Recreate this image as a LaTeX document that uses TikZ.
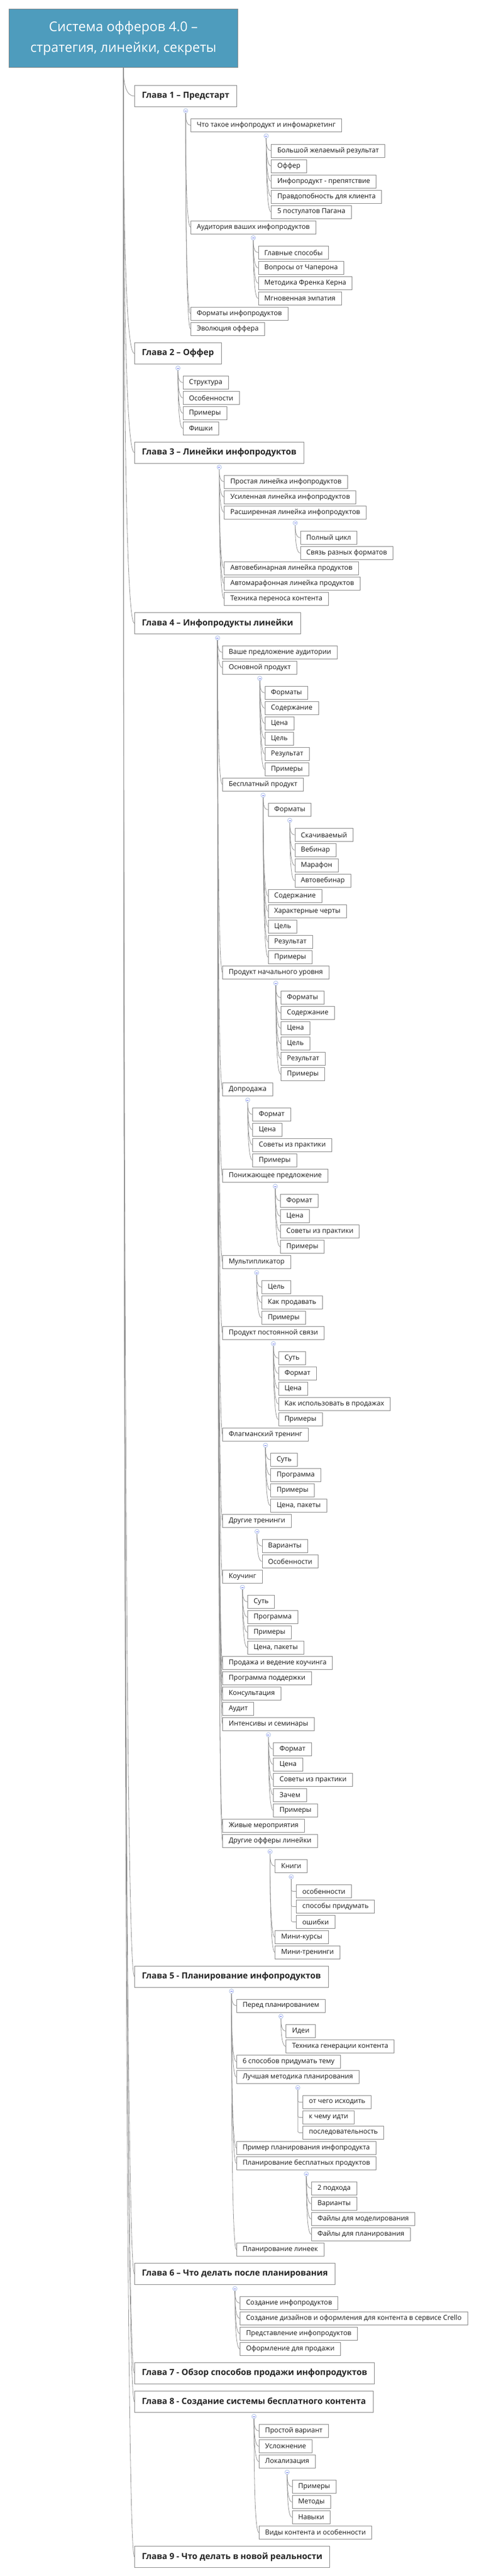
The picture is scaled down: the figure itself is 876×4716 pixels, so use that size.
\documentclass[tikz,border=0pt]{standalone}
\usepackage{fontspec}
\setmainfont{Open Sans}
\usetikzlibrary{calc}
\definecolor{rootfill}{HTML}{4E9CBD}
\definecolor{boxline}{HTML}{858585}
\definecolor{connline}{HTML}{8F8F8F}
\definecolor{circline}{HTML}{A9BDE6}
\definecolor{txt}{HTML}{1A1A1A}
\tikzset{
  leaf/.style={draw=boxline, line width=0.9pt, fill=white, text=txt,
    font=\fontsize{12.5}{15}\selectfont, inner xsep=11pt, inner ysep=0pt,
    minimum height=24pt, anchor=north west},
  chap/.style={draw=boxline, line width=0.9pt, fill=white, text=black!85,
    font=\bfseries\fontsize{15.5}{18}\selectfont, inner xsep=13.5pt, inner ysep=0pt,
    minimum height=39pt, anchor=north west},
  rootbox/.style={draw=boxline, line width=0.9pt, fill=rootfill, text=white,
    font=\fontsize{24.5}{38}\selectfont, align=center, anchor=north west,
    minimum width=419pt, minimum height=107pt, inner sep=0pt},
  conn/.style={draw=connline, line width=0.8pt},
  togg/.style={draw=circline, fill=white, line width=0.8pt},
  tminus/.style={draw=circline!60!blue, line width=0.7pt}
}
% child with curved connector
\newcommand\Kid[4]{%
  \coordinate (yy) at (0,#3);
  \node[leaf, xshift=9pt] (#1) at (#2.center |- yy) {#4};
  \coordinate (s) at ($(#2.south)+(0,11)$);
  \coordinate (q) at (s |- #1.west);
  \draw[conn] (s) .. controls ($(s)!0.667!(q)$) and ($(#1.west)!0.667!(q)$) .. (#1.west);
}
% child with elbow connector
\newcommand\EKid[4]{%
  \coordinate (yy) at (0,#3);
  \node[leaf, xshift=9pt] (#1) at (#2.center |- yy) {#4};
  \coordinate (s) at ($(#2.south)+(0,11)$);
  \draw[conn, rounded corners=3pt] (s) |- (#1.west);
}
% chapter
\newcommand\Chap[3]{%
  \node[chap] (#1) at (246,#2) {#3};
  \coordinate (q) at (root.south |- #1.west);
  \draw[conn] (root.south) .. controls ($(root.south)!0.667!(q)$) and ($(#1.west)!0.667!(q)$) .. (#1.west);
}
% collapse toggle
\newcommand\Tog[1]{%
  \draw[togg] ($(#1.south)+(0,7)$) circle[radius=4];
  \draw[tminus] ($(#1.south)+(-2,7)$) -- ++(4,0);
}
\begin{document}
\begin{tikzpicture}[x=1pt,y=-1pt]
\useasboundingbox (0,0) rectangle (876,4716);
\fill[white] (0,0) rectangle (876,4716);
\node[rootbox] (root) at (16,16) {Система офферов 4.0 –\\стратегия, линейки, секреты};

% ---------- Chapter 1
\Chap{c1}{156}{Глава 1 – Предстарт}
\Kid{c1a}{c1}{217}{Что такое инфопродукт и инфомаркетинг}
\Kid{c1a1}{c1a}{263.5}{Большой желаемый результат}
\Kid{c1a2}{c1a}{291.5}{Оффер}
\Kid{c1a3}{c1a}{319.5}{Инфопродукт - препятствие}
\Kid{c1a4}{c1a}{347.5}{Правдопобность для клиента}
\Kid{c1a5}{c1a}{375.5}{5 постулатов Пагана}
\Kid{c1b}{c1}{403.5}{Аудитория ваших инфопродуктов}
\Kid{c1b1}{c1b}{450}{Главные способы}
\Kid{c1b2}{c1b}{478}{Вопросы от Чаперона}
\Kid{c1b3}{c1b}{506}{Методика Френка Керна}
\Kid{c1b4}{c1b}{534}{Мгновенная эмпатия}
\Kid{c1c}{c1}{562}{Форматы инфопродуктов}
\Kid{c1d}{c1}{590}{Эволюция оффера}
\Tog{c1}\Tog{c1a}\Tog{c1b}

% ---------- Chapter 2
\Chap{c2}{627}{Глава 2 – Оффер}
\Kid{c2a}{c2}{688}{Структура}
\Kid{c2b}{c2}{716}{Особенности}
\Kid{c2c}{c2}{744}{Примеры}
\Kid{c2d}{c2}{772}{Фишки}
\Tog{c2}

% ---------- Chapter 3
\Chap{c3}{808.5}{Глава 3 – Линейки инфопродуктов}
\Kid{c3a}{c3}{869.5}{Простая линейка инфопродуктов}
\Kid{c3b}{c3}{897.5}{Усиленная линейка инфопродуктов}
\Kid{c3c}{c3}{925.5}{Расширенная линейка инфопродуктов}
\Kid{c3c1}{c3c}{972}{Полный цикл}
\Kid{c3c2}{c3c}{1000}{Связь разных форматов}
\Kid{c3d}{c3}{1028}{Автовебинарная линейка продуктов}
\Kid{c3e}{c3}{1056}{Автомарафонная линейка продуктов}
\Kid{c3f}{c3}{1084}{Техника переноса контента}
\Tog{c3}\Tog{c3c}

% ---------- Chapter 4
\Chap{c4}{1121}{Глава 4 – Инфопродукты линейки}
\Kid{c4a}{c4}{1182}{Ваше предложение аудитории}
\Kid{c4b}{c4}{1210}{Основной продукт}
\Kid{c4b1}{c4b}{1256}{Форматы}
\Kid{c4b2}{c4b}{1284}{Содержание}
\Kid{c4b3}{c4b}{1312}{Цена}
\Kid{c4b4}{c4b}{1340}{Цель}
\Kid{c4b5}{c4b}{1368}{Результат}
\Kid{c4b6}{c4b}{1396}{Примеры}
\Kid{c4c}{c4}{1424}{Бесплатный продукт}
\Kid{c4c1}{c4c}{1470}{Форматы}
\Kid{c4c1a}{c4c1}{1516}{Скачиваемый}
\Kid{c4c1b}{c4c1}{1544}{Вебинар}
\Kid{c4c1c}{c4c1}{1572}{Марафон}
\Kid{c4c1d}{c4c1}{1600}{Автовебинар}
\Kid{c4c2}{c4c}{1628}{Содержание}
\Kid{c4c3}{c4c}{1656}{Характерные черты}
\Kid{c4c4}{c4c}{1684}{Цель}
\Kid{c4c5}{c4c}{1712}{Результат}
\Kid{c4c6}{c4c}{1740}{Примеры}
\Kid{c4d}{c4}{1768}{Продукт начального уровня}
\Kid{c4d1}{c4d}{1814}{Форматы}
\Kid{c4d2}{c4d}{1842}{Содержание}
\Kid{c4d3}{c4d}{1870}{Цена}
\Kid{c4d4}{c4d}{1898}{Цель}
\Kid{c4d5}{c4d}{1926}{Результат}
\Kid{c4d6}{c4d}{1954}{Примеры}
\Kid{c4e}{c4}{1982}{Допродажа}
\Kid{c4e1}{c4e}{2028}{Формат}
\Kid{c4e2}{c4e}{2056}{Цена}
\Kid{c4e3}{c4e}{2084}{Советы из практики}
\Kid{c4e4}{c4e}{2112}{Примеры}
\Kid{c4f}{c4}{2140}{Понижающее предложение}
\Kid{c4f1}{c4f}{2186}{Формат}
\Kid{c4f2}{c4f}{2214}{Цена}
\Kid{c4f3}{c4f}{2242}{Советы из практики}
\Kid{c4f4}{c4f}{2270}{Примеры}
\Kid{c4g}{c4}{2298}{Мультипликатор}
\Kid{c4g1}{c4g}{2344}{Цель}
\Kid{c4g2}{c4g}{2372}{Как продавать}
\Kid{c4g3}{c4g}{2400}{Примеры}
\Kid{c4h}{c4}{2428}{Продукт постоянной связи}
\Kid{c4h1}{c4h}{2474}{Суть}
\Kid{c4h2}{c4h}{2502}{Формат}
\Kid{c4h3}{c4h}{2530}{Цена}
\Kid{c4h4}{c4h}{2558}{Как использовать в продажах}
\Kid{c4h5}{c4h}{2586}{Примеры}
\Kid{c4i}{c4}{2614}{Флагманский тренинг}
\Kid{c4i1}{c4i}{2660}{Суть}
\Kid{c4i2}{c4i}{2688}{Программа}
\Kid{c4i3}{c4i}{2716}{Примеры}
\Kid{c4i4}{c4i}{2744}{Цена, пакеты}
\Kid{c4j}{c4}{2772}{Другие тренинги}
\Kid{c4j1}{c4j}{2818}{Варианты}
\Kid{c4j2}{c4j}{2846}{Особенности}
\Kid{c4k}{c4}{2874}{Коучинг}
\Kid{c4k1}{c4k}{2920}{Суть}
\Kid{c4k2}{c4k}{2948}{Программа}
\Kid{c4k3}{c4k}{2976}{Примеры}
\Kid{c4k4}{c4k}{3004}{Цена, пакеты}
\Kid{c4l}{c4}{3032}{Продажа и ведение коучинга}
\Kid{c4m}{c4}{3060}{Программа поддержки}
\Kid{c4n}{c4}{3088}{Консультация}
\Kid{c4o}{c4}{3116}{Аудит}
\Kid{c4p}{c4}{3144}{Интенсивы и семинары}
\Kid{c4p1}{c4p}{3190}{Формат}
\Kid{c4p2}{c4p}{3218}{Цена}
\Kid{c4p3}{c4p}{3246}{Советы из практики}
\Kid{c4p4}{c4p}{3274}{Зачем}
\Kid{c4p5}{c4p}{3302}{Примеры}
\Kid{c4q}{c4}{3330}{Живые мероприятия}
\Kid{c4r}{c4}{3358}{Другие офферы линейки}
\Kid{c4r1}{c4r}{3404}{Книги}
\EKid{c4r1a}{c4r1}{3450}{особенности}
\EKid{c4r1b}{c4r1}{3478}{способы придумать}
\EKid{c4r1c}{c4r1}{3506}{ошибки}
\Kid{c4r2}{c4r}{3534}{Мини-курсы}
\Kid{c4r3}{c4r}{3562}{Мини-тренинги}
\Tog{c4}\Tog{c4b}\Tog{c4c}\Tog{c4c1}\Tog{c4d}\Tog{c4e}\Tog{c4f}\Tog{c4g}
\Tog{c4h}\Tog{c4i}\Tog{c4j}\Tog{c4k}\Tog{c4p}\Tog{c4r}\Tog{c4r1}

% ---------- Chapter 5
\Chap{c5}{3598.5}{Глава 5 - Планирование инфопродуктов}
\Kid{c5a}{c5}{3659.5}{Перед планированием}
\Kid{c5a1}{c5a}{3706}{Идеи}
\Kid{c5a2}{c5a}{3734}{Техника генерации контента}
\Kid{c5b}{c5}{3762}{6 способов придумать тему}
\Kid{c5c}{c5}{3790}{Лучшая методика планирования}
\EKid{c5c1}{c5c}{3836}{от чего исходить}
\EKid{c5c2}{c5c}{3864}{к чему идти}
\EKid{c5c3}{c5c}{3892}{последовательность}
\Kid{c5d}{c5}{3920}{Пример планирования инфопродукта}
\Kid{c5e}{c5}{3948}{Планирование бесплатных продуктов}
\Kid{c5e1}{c5e}{3994}{2 подхода}
\Kid{c5e2}{c5e}{4022}{Варианты}
\Kid{c5e3}{c5e}{4050}{Файлы для моделирования}
\Kid{c5e4}{c5e}{4078}{Файлы для планирования}
\Kid{c5f}{c5}{4106}{Планирование линеек}
\Tog{c5}\Tog{c5a}\Tog{c5c}\Tog{c5e}

% ---------- Chapter 6
\Chap{c6}{4143}{Глава 6 – Что делать после планирования}
\Kid{c6a}{c6}{4204}{Создание инфопродуктов}
\Kid{c6b}{c6}{4232}{Создание дизайнов и оформления для контента в сервисе Crello}
\Kid{c6c}{c6}{4260}{Представление инфопродуктов}
\Kid{c6d}{c6}{4288}{Оформление для продажи}
\Tog{c6}

% ---------- Chapter 7
\Chap{c7}{4324.5}{Глава 7 - Обзор способов продажи инфопродуктов}

% ---------- Chapter 8
\Chap{c8}{4377}{Глава 8 - Создание системы бесплатного контента}
\Kid{c8a}{c8}{4438}{Простой вариант}
\Kid{c8b}{c8}{4466}{Усложнение}
\Kid{c8c}{c8}{4494}{Локализация}
\Kid{c8c1}{c8c}{4540}{Примеры}
\Kid{c8c2}{c8c}{4568}{Методы}
\Kid{c8c3}{c8c}{4596}{Навыки}
\Kid{c8d}{c8}{4624}{Виды контента и особенности}
\Tog{c8}\Tog{c8c}

% ---------- Chapter 9
\Chap{c9}{4661}{Глава 9 - Что делать в новой реальности}
\end{tikzpicture}
\end{document}
